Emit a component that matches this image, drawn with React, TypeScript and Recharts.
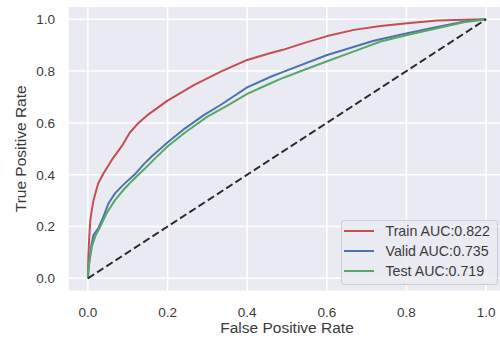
import React from "react";
import { LineChart, Line, XAxis, YAxis, CartesianGrid } from "recharts";

const seriesNames = ["Train AUC:0.822", "Valid AUC:0.735", "Test AUC:0.719"];
const seriesColors = ["#C44E52", "#4C72B0", "#55A868"];

const trainFpr = [0, 0.001, 0.003, 0.006, 0.01, 0.014, 0.02, 0.026, 0.039, 0.06, 0.085, 0.105, 0.127, 0.153, 0.2, 0.266, 0.335, 0.4, 0.459, 0.49, 0.542, 0.601, 0.668, 0.735, 0.802, 0.877, 0.944, 1.0];
const trainTpr = [0, 0.08, 0.148, 0.225, 0.265, 0.3, 0.335, 0.367, 0.405, 0.457, 0.51, 0.562, 0.6, 0.634, 0.686, 0.746, 0.799, 0.843, 0.87, 0.882, 0.908, 0.935, 0.959, 0.974, 0.985, 0.995, 0.998, 1.0];

const validFpr = [0, 0.002, 0.005, 0.009, 0.014, 0.02, 0.026, 0.039, 0.052, 0.068, 0.085, 0.102, 0.12, 0.14, 0.16, 0.202, 0.244, 0.291, 0.333, 0.4, 0.459, 0.492, 0.601, 0.718, 0.802, 0.877, 0.95, 1.0];
const validTpr = [0, 0.04, 0.083, 0.13, 0.167, 0.18, 0.193, 0.238, 0.29, 0.328, 0.355, 0.38, 0.405, 0.44, 0.47, 0.527, 0.579, 0.63, 0.669, 0.737, 0.778, 0.798, 0.862, 0.917, 0.946, 0.97, 0.992, 1.0];

const testFpr = [0, 0.001, 0.003, 0.01, 0.018, 0.031, 0.047, 0.068, 0.089, 0.11, 0.13, 0.144, 0.17, 0.202, 0.244, 0.3, 0.35, 0.4, 0.459, 0.484, 0.542, 0.601, 0.668, 0.735, 0.802, 0.877, 0.944, 1.0];
const testTpr = [0, 0.03, 0.058, 0.122, 0.161, 0.2, 0.251, 0.302, 0.341, 0.375, 0.405, 0.425, 0.465, 0.512, 0.563, 0.624, 0.667, 0.712, 0.753, 0.77, 0.804, 0.838, 0.876, 0.914, 0.939, 0.965, 0.988, 1.0];

const chanceFpr = [0, 1];
const chanceTpr = [0, 1];

const axisTicks = [0, 0.2, 0.4, 0.6, 0.8, 1.0];

const toPoints = (xs: number[], ys: number[]) => xs.map((x, i) => ({ x, y: ys[i] }));

const curves = [
  toPoints(trainFpr, trainTpr),
  toPoints(validFpr, validTpr),
  toPoints(testFpr, testTpr),
];
const chanceData = toPoints(chanceFpr, chanceTpr);

const FONT = '"Liberation Sans", Arial, sans-serif';
const TEXT = "#3a3a3a";

export default function App() {
  return (
    <div
      style={{
        position: "absolute",
        left: 0,
        top: 0,
        width: 500,
        height: 338,
        overflow: "hidden",
        background: "#ffffff",
        fontFamily: FONT,
      }}
    >
      <LineChart
        width={506}
        height={338}
        margin={{ top: 6.3, right: 0, bottom: 0, left: 0 }}
      >
        <CartesianGrid fill="#EAEAF2" stroke="#ffffff" strokeWidth={1.5} />
        <XAxis
          type="number"
          dataKey="x"
          domain={[-0.05, 1.05]}
          ticks={axisTicks}
          tickFormatter={(v: number) => v.toFixed(1)}
          axisLine={false}
          tickLine={false}
          tickSize={0}
          tickMargin={16}
          height={46.7}
          tick={{ fill: TEXT, fontSize: 13.5, fontFamily: FONT }}
          allowDataOverflow
          label={{
            value: "False Positive Rate",
            position: "insideBottom",
            offset: 5.5,
            style: { fill: TEXT, fontSize: 15.5, fontFamily: FONT },
          }}
        />
        <YAxis
          type="number"
          dataKey="y"
          domain={[-0.05, 1.05]}
          ticks={axisTicks}
          tickFormatter={(v: number) => v.toFixed(1)}
          axisLine={false}
          tickLine={false}
          tickSize={0}
          tickMargin={13}
          width={68}
          tick={{ fill: TEXT, fontSize: 13.5, fontFamily: FONT }}
          allowDataOverflow
          label={{
            value: "True Positive Rate",
            angle: -90,
            position: "insideLeft",
            offset: 21,
            style: { fill: TEXT, fontSize: 15.5, fontFamily: FONT, textAnchor: "middle" },
          }}
        />
        {curves.map((d, i) => (
          <Line
            key={seriesNames[i]}
            data={d}
            dataKey="y"
            name={seriesNames[i]}
            type="linear"
            stroke={seriesColors[i]}
            strokeWidth={2}
            dot={false}
            activeDot={false}
            isAnimationActive={false}
            strokeLinejoin="round"
          />
        ))}
        <Line
          data={chanceData}
          dataKey="y"
          name="chance"
          type="linear"
          stroke="#2a2a2a"
          strokeWidth={2}
          strokeDasharray="7.5 3.5"
          dot={false}
          activeDot={false}
          isAnimationActive={false}
          legendType="none"
        />
      </LineChart>
      <div
        style={{
          position: "absolute",
          left: 341,
          top: 220,
          width: 157,
          height: 65,
          boxSizing: "border-box",
          border: "1px solid #CCCCCC",
          borderRadius: 3,
          background: "rgba(234,234,242,0.8)",
        }}
      >
        {seriesNames.map((name, i) => {
          const cy = 9.5 + i * 20.4;
          return (
            <React.Fragment key={name}>
              <div
                style={{
                  position: "absolute",
                  left: 2,
                  top: cy - 1,
                  width: 30,
                  height: 2,
                  background: seriesColors[i],
                }}
              />
              <div
                style={{
                  position: "absolute",
                  left: 43.5,
                  top: cy - 8,
                  height: 16,
                  lineHeight: "16px",
                  fontSize: 14.2,
                  fontFamily: FONT,
                  color: TEXT,
                  whiteSpace: "nowrap",
                }}
              >
                {name}
              </div>
            </React.Fragment>
          );
        })}
      </div>
    </div>
  );
}
